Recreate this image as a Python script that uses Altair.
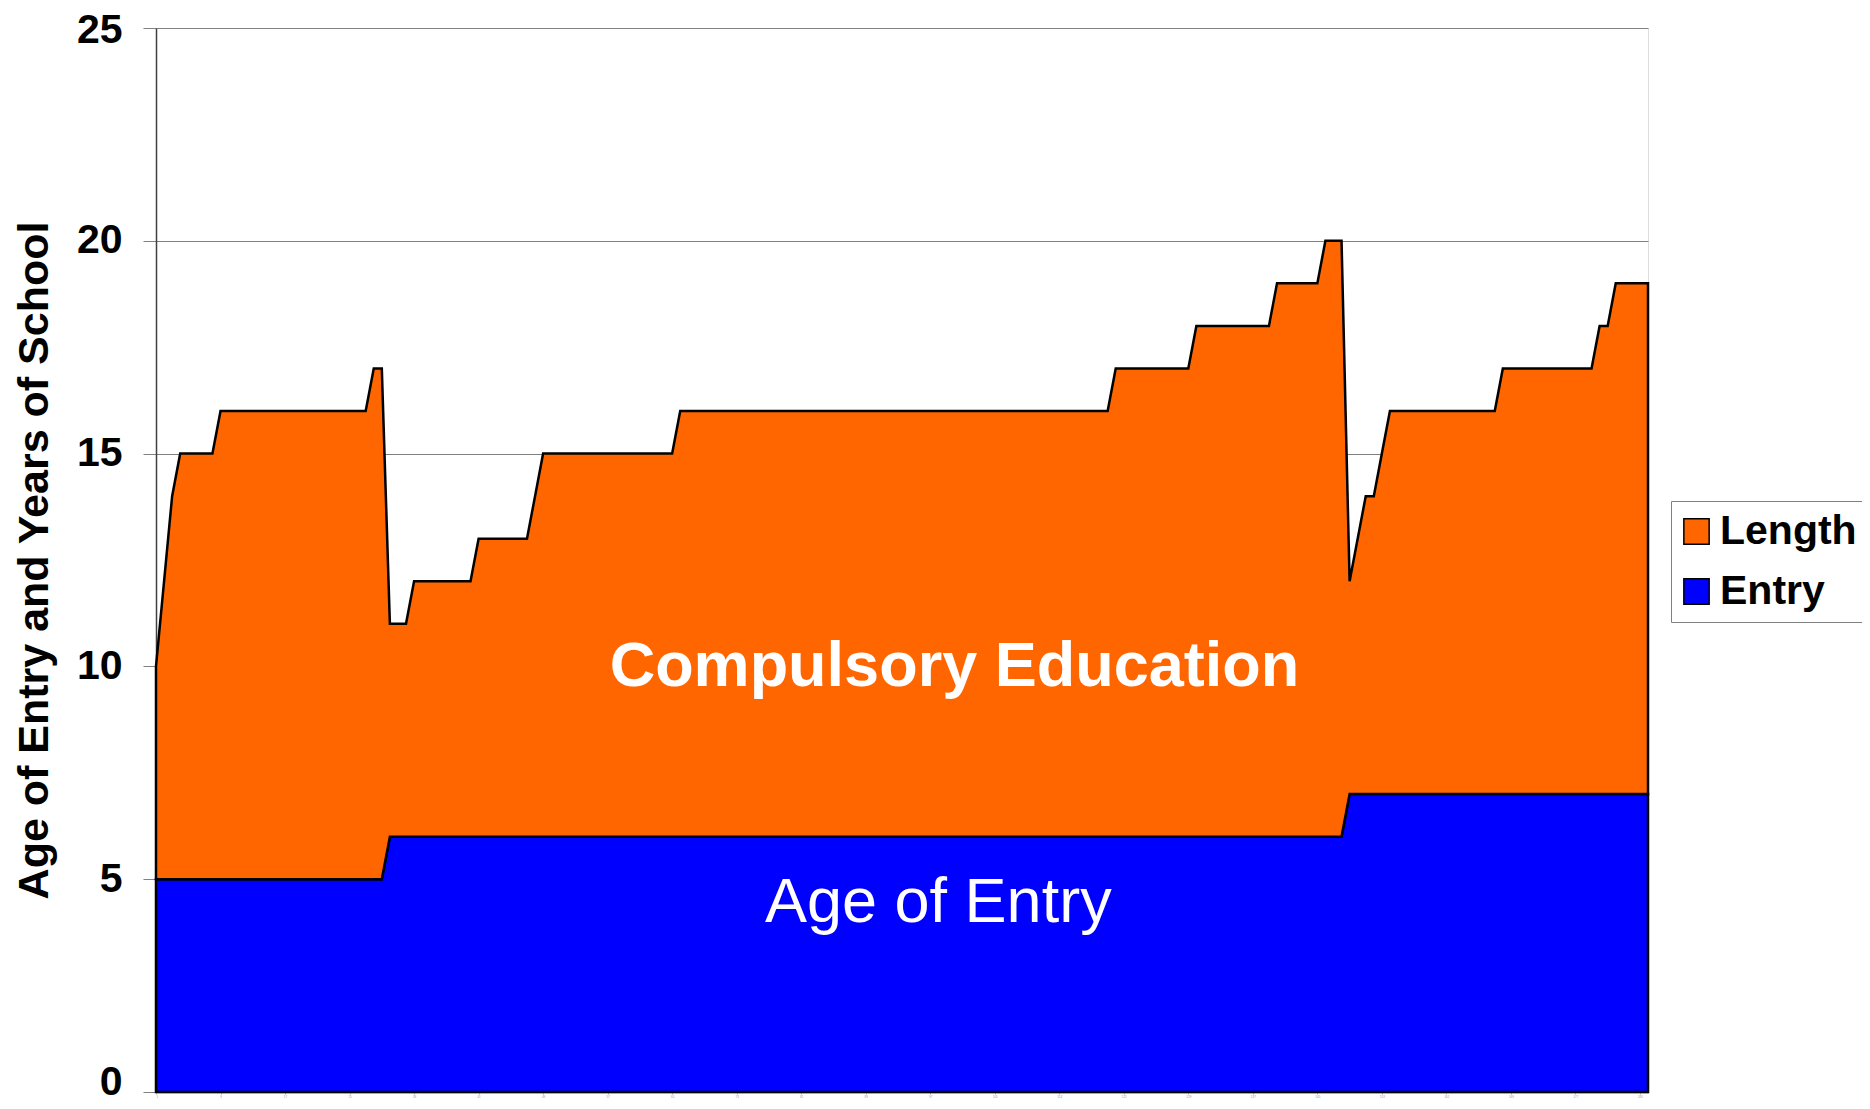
import altair as alt
import pandas as pd

# Age of entry into compulsory education, one value per country (186 countries)
entry_age = [
    5, 5, 5, 5, 5, 5, 5, 5, 5, 5,
    5, 5, 5, 5, 5, 5, 5, 5, 5, 5,
    5, 5, 5, 5, 5, 5, 5, 5, 5, 6,
    6, 6, 6, 6, 6, 6, 6, 6, 6, 6,
    6, 6, 6, 6, 6, 6, 6, 6, 6, 6,
    6, 6, 6, 6, 6, 6, 6, 6, 6, 6,
    6, 6, 6, 6, 6, 6, 6, 6, 6, 6,
    6, 6, 6, 6, 6, 6, 6, 6, 6, 6,
    6, 6, 6, 6, 6, 6, 6, 6, 6, 6,
    6, 6, 6, 6, 6, 6, 6, 6, 6, 6,
    6, 6, 6, 6, 6, 6, 6, 6, 6, 6,
    6, 6, 6, 6, 6, 6, 6, 6, 6, 6,
    6, 6, 6, 6, 6, 6, 6, 6, 6, 6,
    6, 6, 6, 6, 6, 6, 6, 6, 6, 6,
    6, 6, 6, 6, 6, 6, 6, 6, 7, 7,
    7, 7, 7, 7, 7, 7, 7, 7, 7, 7,
    7, 7, 7, 7, 7, 7, 7, 7, 7, 7,
    7, 7, 7, 7, 7, 7, 7, 7, 7, 7,
    7, 7, 7, 7, 7, 7,
]

# Length of compulsory education in years, one value per country
length_years = [
    5, 7, 9, 10, 10, 10, 10, 10, 11, 11,
    11, 11, 11, 11, 11, 11, 11, 11, 11, 11,
    11, 11, 11, 11, 11, 11, 11, 12, 12, 5,
    5, 5, 6, 6, 6, 6, 6, 6, 6, 6,
    7, 7, 7, 7, 7, 7, 7, 8, 9, 9,
    9, 9, 9, 9, 9, 9, 9, 9, 9, 9,
    9, 9, 9, 9, 9, 10, 10, 10, 10, 10,
    10, 10, 10, 10, 10, 10, 10, 10, 10, 10,
    10, 10, 10, 10, 10, 10, 10, 10, 10, 10,
    10, 10, 10, 10, 10, 10, 10, 10, 10, 10,
    10, 10, 10, 10, 10, 10, 10, 10, 10, 10,
    10, 10, 10, 10, 10, 10, 10, 10, 10, 11,
    11, 11, 11, 11, 11, 11, 11, 11, 11, 12,
    12, 12, 12, 12, 12, 12, 12, 12, 12, 13,
    13, 13, 13, 13, 13, 14, 14, 14, 5, 6,
    7, 7, 8, 9, 9, 9, 9, 9, 9, 9,
    9, 9, 9, 9, 9, 9, 9, 10, 10, 10,
    10, 10, 10, 10, 10, 10, 10, 10, 10, 11,
    11, 12, 12, 12, 12, 12,
]

series_names = ["Length", "Entry"]
series_colors = ["#FF6600", "#0000FF"]
y_ticks = [0, 5, 10, 15, 20, 25]

annot_text = ["Compulsory Education", "Age of Entry"]
annot_idx = [100, 98]
annot_value = [9.55, 4.0]

rows = []
for i, (e, l) in enumerate(zip(entry_age, length_years)):
    rows.append({"idx": i + 1, "series": "Entry", "value": e, "order": 0})
    rows.append({"idx": i + 1, "series": "Length", "value": l, "order": 1})
df = pd.DataFrame(rows)

ann = pd.DataFrame({"idx": annot_idx, "value": annot_value, "text": annot_text})

n = len(entry_age)
x_enc = alt.X(
    "idx:Q",
    scale=alt.Scale(domain=[1, n], nice=False, zero=False),
    axis=alt.Axis(
        title=None,
        values=list(range(1, n + 1)),
        labelFontSize=3,
        labelColor="#9a9a9a",
        labelOverlap=False,
        labelPadding=1,
        tickSize=2,
        tickColor="#b0b0b0",
        domainColor="#808080",
        domainWidth=1.5,
        grid=False,
    ),
)

y_scale = alt.Scale(domain=[0, 25], nice=False)
y_axis = alt.Axis(
    title="Age of Entry and Years of School",
    values=y_ticks,
    labelFontSize=41,
    labelFontWeight="bold",
    labelFont="Liberation Sans",
    labelColor="black",
    labelPadding=21,
    labelOffset={
        "condition": [
            {"test": "datum.value == 0", "value": -10},
            {"test": "datum.value == 25", "value": 2},
        ],
        "value": 0,
    },
    tickSize=13,
    tickColor="#808080",
    domainColor="#404040",
    domainWidth=1.5,
    gridColor="#808080",
    gridWidth=1,
    titleFont="Liberation Sans",
    titleFontSize=43,
    titleFontWeight="bold",
    titleColor="black",
    titleX=-122,
    titleY=532,
    titleAngle=270,
    titleAlign="center",
    titleBaseline="middle",
)

area = alt.Chart(df).mark_area(stroke="black", strokeWidth=2.5, opacity=1).encode(
    x=x_enc,
    y=alt.Y("value:Q", stack="zero", scale=y_scale, axis=y_axis),
    color=alt.Color(
        "series:N",
        scale=alt.Scale(domain=series_names, range=series_colors),
        legend=alt.Legend(
            title=None,
            orient="none",
            legendX=1515,
            legendY=473,
            padding=10,
            strokeColor="#808080",
            fillColor="white",
            labelFont="Liberation Sans",
            labelFontSize=41,
            labelFontWeight="bold",
            labelColor="black",
            labelOffset=3,
            symbolOffset=-5,
            symbolType="square",
            symbolSize=640,
            symbolStrokeColor="black",
            symbolStrokeWidth=1.5,
            symbolOpacity=1,
            rowPadding=18,
        ),
    ),
    order=alt.Order("order:Q"),
)

txt_bold = alt.Chart(ann.iloc[[0]]).mark_text(
    font="Liberation Sans", fontSize=63, fontWeight="bold", color="white",
    align="center", baseline="alphabetic",
).encode(x="idx:Q", y=alt.Y("value:Q", scale=y_scale, axis=y_axis), text="text:N")

txt_norm = alt.Chart(ann.iloc[[1]]).mark_text(
    font="Liberation Sans", fontSize=63, fontWeight="normal", color="white",
    align="center", baseline="alphabetic",
).encode(x="idx:Q", y=alt.Y("value:Q", scale=y_scale, axis=y_axis), text="text:N")

chart = alt.layer(area, txt_bold, txt_norm).properties(
    width=1492,
    height=1064,
    autosize=alt.AutoSizeParams(type="none"),
    padding={"left": 148, "top": 20, "right": 214, "bottom": 9},
).configure_view(stroke="#808080", strokeWidth=1).configure(background="white")

chart.save("out.html", embed_options={"renderer": "svg", "actions": False})
